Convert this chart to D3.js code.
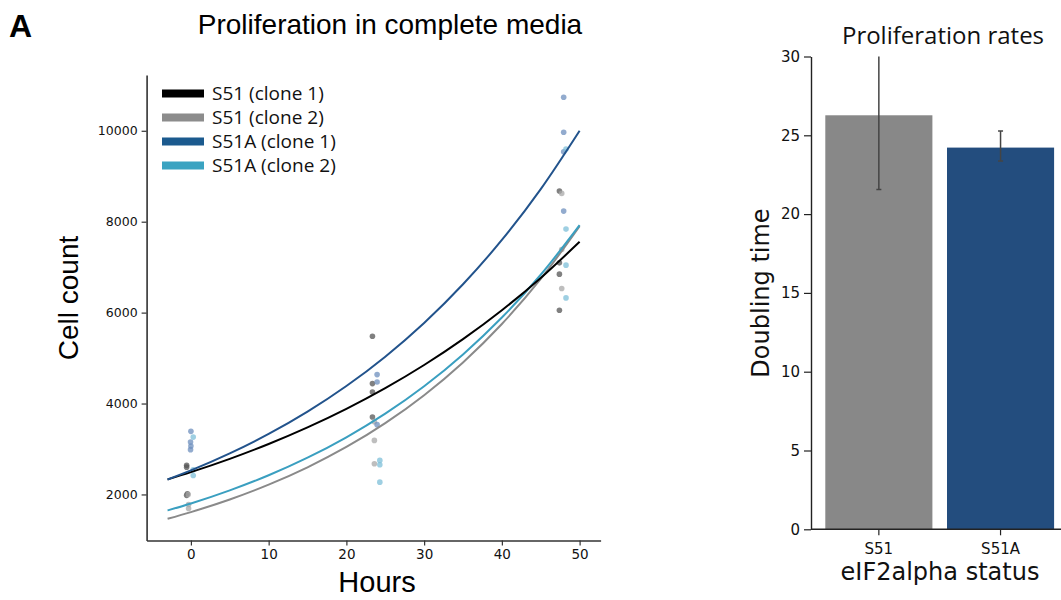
<!DOCTYPE html>
<html><head><meta charset="utf-8">
<script src="https://cdn.jsdelivr.net/npm/d3@7"></script>
<style>body{margin:0;background:#fff}svg{display:block}</style>
</head><body><svg id="c" width="1061" height="600"></svg>
<script>
// ---- data ----
const seriesNames = ["S51 (clone 1)", "S51 (clone 2)", "S51A (clone 1)", "S51A (clone 2)"];
const seriesColors = ["#000000", "#8a8a8a", "#22538c", "#3a9fc0"];
const pointColors = ["#555555", "#a8a8a8", "#6d8fbd", "#7dbfd8"];
// fitted curves at these hours
const curveHours = [-3, 0, 5, 10, 15, 20, 25, 30, 35, 40, 45, 50];
const curveS51c1 = [2330, 2491, 2783, 3110, 3475, 3883, 4338, 4847, 5416, 6052, 6763, 7557];
const curveS51c2 = [1465, 1612, 1889, 2215, 2597, 3044, 3569, 4184, 4905, 5750, 6741, 7903];
const curveS51Ac1 = [2330, 2530, 2903, 3331, 3822, 4385, 5031, 5772, 6623, 7599, 8718, 10002];
const curveS51Ac2 = [1648, 1801, 2089, 2422, 2809, 3258, 3778, 4381, 5081, 5892, 6833, 7924];
// raw counts: [hour (as plotted, jittered), count]
const ptsS51c1 = [[-0.55, 2640], [-0.55, 2600], [-0.55, 1980], [-0.45, 2015],
                  [23.35, 5480], [23.35, 4438], [23.35, 4253], [23.35, 3703],
                  [47.4, 8674], [47.4, 7095], [47.4, 6846], [47.4, 6053]];
const ptsS51c2 = [[-0.3, 1780], [-0.3, 1690], [-0.35, 2000],
                  [23.6, 3189], [23.6, 2676], [23.6, 3600],
                  [47.7, 8623], [47.7, 7390], [47.7, 6531]];
const ptsS51Ac1 = [[0.0, 3388], [-0.05, 3152], [0.0, 3064], [-0.05, 2985],
                   [23.95, 4636], [23.95, 4474], [23.95, 3535],
                   [47.95, 10738], [47.95, 9967], [47.95, 9540], [47.95, 8233]];
const ptsS51Ac2 = [[0.3, 3262], [0.3, 2544], [0.3, 2418],
                   [24.3, 2749], [24.3, 2654], [24.3, 2271],
                   [48.25, 9599], [48.25, 7837], [48.25, 7044], [48.25, 6324]];
const xTicksLeft = [0, 10, 20, 30, 40, 50];
const yTicksLeft = [2000, 4000, 6000, 8000, 10000];
// bar chart
const barCats = ["S51", "S51A"];
const barValues = [26.27, 24.22];
const barLow = [21.56, 23.37];
const barHigh = [30.98, 25.28];
const barColors = ["#888888", "#234d7e"];
const yTicksRight = [0, 5, 10, 15, 20, 25, 30];

const curves = [curveS51c1, curveS51c2, curveS51Ac1, curveS51Ac2];
const points = [ptsS51c1, ptsS51c2, ptsS51Ac1, ptsS51Ac2];

const svg = d3.select("#c");
const axisCol = "#333";

// ---- left chart ----
const x = d3.scaleLinear().domain([-5.7, 52.7]).range([146.6, 600.6]);
const y = d3.scaleLinear().domain([987, 11227]).range([540.5, 75]);

const gx = svg.append("g").attr("transform", "translate(0,540.5)")
  .call(d3.axisBottom(x).tickValues(xTicksLeft).tickFormat(d3.format("d")).tickSize(5).tickSizeOuter(0));
const gy = svg.append("g").attr("transform", "translate(146.6,0)")
  .call(d3.axisLeft(y).tickValues(yTicksLeft).tickFormat(d3.format("d")).tickSize(5).tickSizeOuter(0));
[gx, gy].forEach(g => {
  g.select(".domain").attr("stroke", axisCol).attr("stroke-width", 1.6);
  g.selectAll(".tick line").attr("stroke", axisCol).attr("stroke-width", 1.2);
  g.selectAll("text").attr("fill", "#111").style("font-family", "DejaVu Sans");
});
gy.selectAll("text").style("font-size", "12.5px").attr("x", -9);
gx.selectAll("text").style("font-size", "13.5px").attr("y", 9).attr("dy", "0.71em");

// points
points.forEach((pts, i) => {
  svg.append("g").selectAll("circle").data(pts).join("circle")
    .attr("cx", d => x(d[0])).attr("cy", d => y(d[1])).attr("r", 2.8)
    .attr("fill", pointColors[i]).attr("opacity", 0.75);
});

// curves
const line = d3.line().x((d, j) => x(curveHours[j])).y(d => y(d)).curve(d3.curveMonotoneX);
const drawOrder = [1, 3, 0, 2];
drawOrder.forEach(i => {
  svg.append("path").datum(curves[i]).attr("d", line)
    .attr("fill", "none").attr("stroke", seriesColors[i]).attr("stroke-width", 2);
});

// legend
const legendSw = ["#000000", "#8c8c8c", "#1b5a8e", "#3aa3c1"];
const lg = svg.append("g");
seriesNames.forEach((n, i) => {
  const yy = 93.5 + i * 24;
  lg.append("rect").attr("x", 162).attr("y", yy - 4).attr("width", 42).attr("height", 8).attr("fill", legendSw[i]);
  lg.append("text").attr("x", 212).attr("y", yy + 6.5).text(n)
    .style("font-family", "Open Sans").style("font-size", "19px").attr("fill", "#111");
});

// titles
svg.append("text").attr("x", 9).attr("y", 37).text("A")
  .style("font-family", "Liberation Sans").style("font-weight", "bold").style("font-size", "32px");
svg.append("text").attr("x", 390).attr("y", 34).attr("text-anchor", "middle").text("Proliferation in complete media")
  .style("font-family", "Liberation Sans").style("font-size", "28px");
svg.append("text").attr("transform", "translate(78,298) rotate(-90)").attr("text-anchor", "middle").text("Cell count")
  .style("font-family", "Liberation Sans").style("font-size", "28px");
svg.append("text").attr("x", 377).attr("y", 592).attr("text-anchor", "middle").text("Hours")
  .style("font-family", "Liberation Sans").style("font-size", "29px");

// ---- right chart ----
const yr = d3.scaleLinear().domain([0, 30]).range([529.3, 56.5]);
const xb = d3.scaleBand().domain(barCats).range([818, 1061.4]).paddingInner(0.12).paddingOuter(0.06);

svg.append("defs").append("clipPath").attr("id", "clipR")
  .append("rect").attr("x", 811).attr("y", yr(30)).attr("width", 260).attr("height", yr(0) - yr(30));

svg.append("g").selectAll("rect").data(barCats).join("rect")
  .attr("x", d => xb(d)).attr("width", xb.bandwidth())
  .attr("y", (d, i) => yr(barValues[i])).attr("height", (d, i) => yr(0) - yr(barValues[i]))
  .attr("fill", (d, i) => barColors[i]);

const eb = svg.append("g").attr("clip-path", "url(#clipR)").attr("stroke", "#444").attr("stroke-width", 1.5);
barCats.forEach((c, i) => {
  const cx = xb(c) + xb.bandwidth() / 2;
  eb.append("line").attr("x1", cx).attr("x2", cx).attr("y1", yr(barLow[i])).attr("y2", yr(barHigh[i]));
  [barLow[i], barHigh[i]].forEach(v => {
    eb.append("line").attr("x1", cx - 2.5).attr("x2", cx + 2.5).attr("y1", yr(v)).attr("y2", yr(v));
  });
});

const gyr = svg.append("g").attr("transform", "translate(811,0)")
  .call(d3.axisLeft(yr).tickValues(yTicksRight).tickSize(7).tickSizeOuter(0));
gyr.select(".domain").attr("stroke", "#222").attr("stroke-width", 1.4);
gyr.selectAll(".tick line").attr("stroke", "#222").attr("stroke-width", 1.2);
gyr.selectAll("text").style("font-family", "DejaVu Sans").style("font-size", "15px").attr("fill", "#111").attr("x", -11);

const gxr = svg.append("g").attr("transform", "translate(0,529.3)")
  .call(d3.axisBottom(xb).tickSize(6).tickSizeOuter(0));
gxr.select(".domain").attr("d", "M811,0H1061").attr("stroke", "#222").attr("stroke-width", 1.4);
gxr.selectAll(".tick line").attr("stroke", "#222").attr("stroke-width", 1.2);
gxr.selectAll("text").style("font-family", "DejaVu Sans").style("font-size", "15px").attr("fill", "#111")
  .attr("y", 14).attr("dy", "0.71em");

svg.append("text").attr("x", 943).attr("y", 44).attr("text-anchor", "middle").text("Proliferation rates")
  .style("font-family", "Open Sans").style("font-size", "24px").attr("fill", "#111");
svg.append("text").attr("transform", "translate(769,293) rotate(-90)").attr("text-anchor", "middle").text("Doubling time")
  .style("font-family", "DejaVu Sans").style("font-size", "24px").attr("fill", "#111");
svg.append("text").attr("x", 940).attr("y", 580).attr("text-anchor", "middle").text("eIF2alpha status")
  .style("font-family", "DejaVu Sans").style("font-size", "24px").attr("fill", "#111");
</script></body></html>
